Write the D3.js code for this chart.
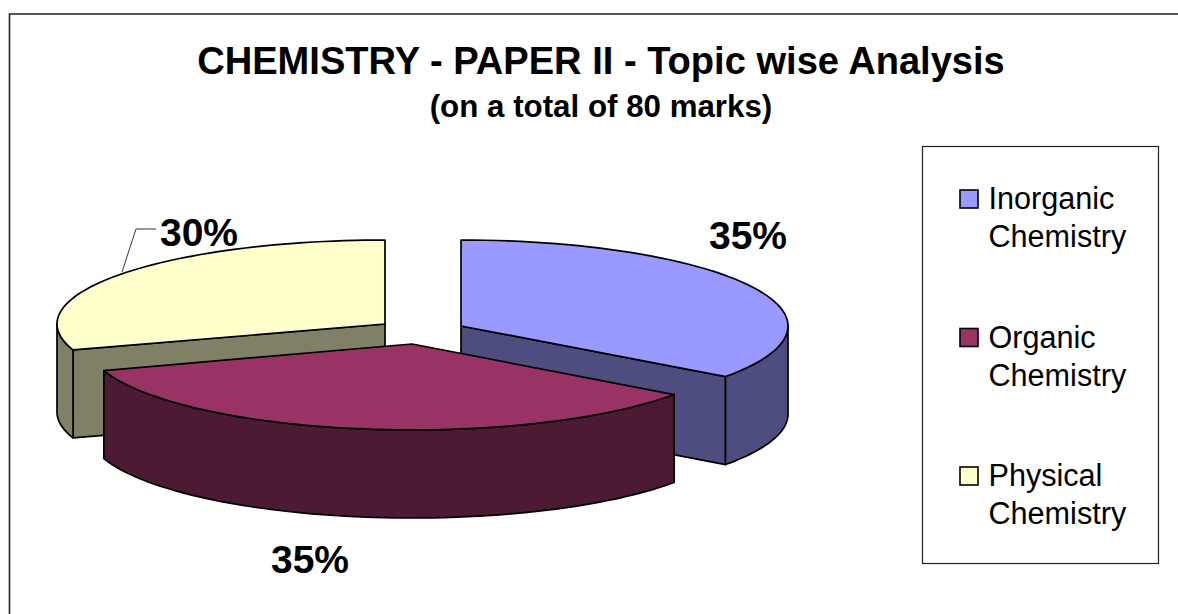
<!DOCTYPE html>
<html>
<head>
<meta charset="utf-8">
<script src="https://cdn.jsdelivr.net/npm/d3@7"></script>
<style>
  html, body { margin: 0; padding: 0; background: #fff; }
  svg { display: block; }
  text { font-family: "Liberation Sans", Arial, sans-serif; fill: #000; }
</style>
</head>
<body>
<svg id="chart" width="1178" height="614"></svg>
<script>
var categories = ['Inorganic Chemistry', 'Organic Chemistry', 'Physical Chemistry'];
var shares = [35, 35, 30];
var shareLabels = ['35%', '35%', '30%'];
var topColors = ['#9999ff', '#993366', '#ffffcc'];
var sideColors = ['#4d4d80', '#4d1a33', '#808066'];
var titleLines = ['CHEMISTRY - PAPER II - Topic wise Analysis', '(on a total of 80 marks)'];

var svg = d3.select('#chart');

var depth = 88;
// unit circle -> screen offset, squashed into an ellipse
var xScale = d3.scaleLinear().domain([-1, 1]);
var yScale = d3.scaleLinear().domain([-1, 1]);

// exploded centres and ellipse size per slice, and where the percent label sits
var layout = [
  {cx: 461, cy: 326, rx: 327, ry: 86, lx: 748, ly: 249},
  {cx: 412, cy: 344, rx: 324, ry: 86, lx: 310, ly: 573},
  {cx: 385, cy: 324, rx: 328, ry: 84, lx: 199, ly: 246}
];

var slices = d3.pie().sort(null)(shares);

function pt(a, c, dy) {
  xScale.range([-c.rx, c.rx]);
  yScale.range([c.ry, -c.ry]);
  return [c.cx + xScale(Math.sin(a)), c.cy + yScale(Math.cos(a)) + (dy || 0)];
}

// points along the rim between two angles
function rim(a0, a1, c, dy) {
  return d3.range(0, 61).map(function(i) {
    return pt(a0 + (a1 - a0) * i / 60, c, dy);
  });
}

var line = d3.line();

function topPath(s, c) {
  return line([[c.cx, c.cy]].concat(rim(s.startAngle, s.endAngle, c))) + 'Z';
}

// outer wall, only the part of the rim facing the viewer
function wallPath(s, c) {
  var a0 = Math.max(s.startAngle, Math.PI / 2);
  var a1 = Math.min(s.endAngle, Math.PI * 1.5);
  return line(rim(a0, a1, c).concat(rim(a1, a0, c, depth))) + 'Z';
}

// cut face between the centre and one rim point
function facePath(a, c) {
  var p = pt(a, c);
  return line([[c.cx, c.cy], p, [p[0], p[1] + depth], [c.cx, c.cy + depth]]) + 'Z';
}

// chart frame, only left and top are inside the picture
svg.append('path')
  .attr('d', line([[9.5, 614], [9.5, 14], [1178, 14]]))
  .attr('fill', 'none').attr('stroke', '#222').attr('stroke-width', 1.6);

// back to front
var order = [2, 0, 1];
var faceAngle = {0: 'endAngle', 2: 'startAngle'};

var g = svg.append('g')
  .attr('stroke', '#000').attr('stroke-width', 1.7).attr('stroke-linejoin', 'round');

order.forEach(function(i) {
  var s = slices[i], c = layout[i];
  if (faceAngle[i]) {
    g.append('path')
      .attr('d', facePath(s[faceAngle[i]], c))
      .attr('fill', sideColors[i]);
  }
  g.append('path')
    .attr('d', wallPath(s, c))
    .attr('fill', sideColors[i]);
  g.append('path')
    .attr('d', topPath(s, c))
    .attr('fill', topColors[i]);
});

// leader for the physical label
svg.append('path')
  .attr('d', line([[156, 229], [136, 229], [122, 272]]))
  .attr('fill', 'none').attr('stroke', '#333').attr('stroke-width', 1);

svg.selectAll('.pct')
  .data(shareLabels)
  .enter().append('text')
  .attr('class', 'pct')
  .attr('x', (d, i) => layout[i].lx)
  .attr('y', (d, i) => layout[i].ly)
  .attr('text-anchor', 'middle')
  .style('font-size', '39px')
  .style('font-weight', 'bold')
  .text(d => d);

svg.append('text')
  .attr('x', 601).attr('y', 74)
  .attr('text-anchor', 'middle')
  .style('font-size', '38.1px').style('font-weight', 'bold')
  .text(titleLines[0]);
svg.append('text')
  .attr('x', 601).attr('y', 117)
  .attr('text-anchor', 'middle')
  .style('font-size', '31.3px').style('font-weight', 'bold')
  .text(titleLines[1]);

// legend
svg.append('rect')
  .attr('x', 922.5).attr('y', 146.5)
  .attr('width', 236).attr('height', 417)
  .attr('fill', '#fff').attr('stroke', '#222').attr('stroke-width', 1.2);

var legendY = d3.scalePoint().domain(categories).range([199, 476]);

var items = svg.selectAll('.legend-item')
  .data(categories)
  .enter().append('g')
  .attr('class', 'legend-item')
  .attr('transform', d => 'translate(0,' + legendY(d) + ')');

items.append('rect')
  .attr('x', 960).attr('y', -9)
  .attr('width', 18).attr('height', 18)
  .attr('fill', (d, i) => topColors[i])
  .attr('stroke', '#000').attr('stroke-width', 1.6);

items.selectAll('text')
  .data(d => d.split(' '))
  .enter().append('text')
  .attr('x', 988.5)
  .attr('y', (d, i) => 10 + i * 38)
  .style('font-size', '30.6px')
  .text(d => d);
</script>
</body>
</html>
